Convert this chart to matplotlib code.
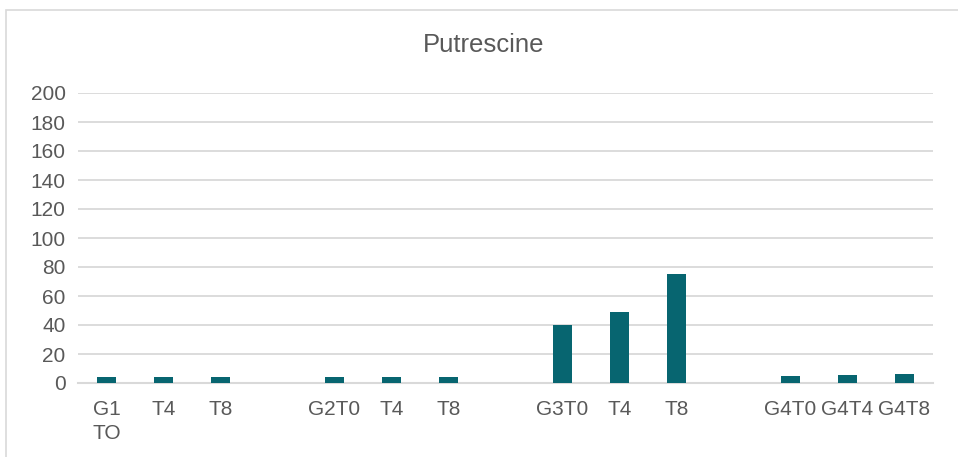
import matplotlib.pyplot as plt
from matplotlib.patches import Rectangle

plt.rcParams['font.family'] = ['Liberation Sans', 'DejaVu Sans']

labels = ['G1\nTO', 'T4', 'T8', '', 'G2T0', 'T4', 'T8', '', 'G3T0', 'T4', 'T8', '', 'G4T0', 'G4T4', 'G4T8']
values = [3.9, 3.9, 3.9, None, 3.9, 4.4, 4.4, None, 40.3, 49.0, 75.5, None, 5.0, 5.7, 6.4]
yticks = [0, 20, 40, 60, 80, 100, 120, 140, 160, 180, 200]

text_color = '#595959'
grid_color = '#d9d9d9'
bar_color = '#076570'

fig = plt.figure(figsize=(9.58, 4.57), dpi=100)
ax = fig.add_axes([78 / 958, 1 - 383 / 457, (933 - 78) / 958, (383 - 93) / 457])

x = list(range(len(labels)))
xs = [i for i, v in zip(x, values) if v is not None]
vs = [v for v in values if v is not None]
ax.bar(xs, vs, width=0.32, color=bar_color, zorder=3)

ax.set_xlim(-0.5, len(labels) - 0.5)
ax.set_ylim(0, 200)
ax.set_yticks(yticks)
ax.set_xticks(x)
ax.set_xticklabels(labels, linespacing=1.35, va='top')
ax.yaxis.grid(True, color=grid_color, linewidth=1.3, zorder=0)
for s in ['top', 'right', 'left']:
    ax.spines[s].set_visible(False)
ax.spines['bottom'].set_color(grid_color)
ax.spines['bottom'].set_linewidth(1.5)
ax.tick_params(axis='both', length=0, labelsize=15, labelcolor=text_color)
ax.tick_params(axis='x', pad=12)
ax.tick_params(axis='y', pad=9)

fig.text(484 / 958, 1 - 45 / 457, 'Putrescine', ha='center', va='center',
         fontsize=18.5, color=text_color)

# outer chart border
fig.patches.append(Rectangle((6 / 958, -0.05), 1.0, 1 - 10 / 457 + 0.05,
                             transform=fig.transFigure, fill=False,
                             edgecolor=grid_color, linewidth=1.2))

fig.savefig('out.png', dpi=100)
